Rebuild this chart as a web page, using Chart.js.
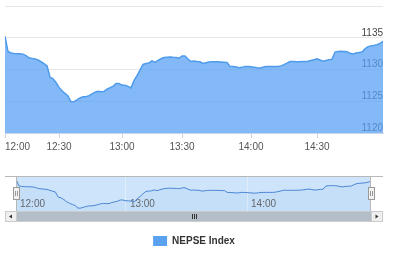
<!DOCTYPE html>
<html lang="en">
<head>
    <meta charset="UTF-8">
    <title>NEPSE Index</title>
    <script src="https://cdn.jsdelivr.net/npm/chart.js"></script>
    <style>
        body { margin: 0; background: #fff; }
        #wrap { position: relative; width: 400px; height: 258px; }
        #mainChart { position: absolute; left: 0; top: 0; }
        #navChart { position: absolute; left: 0; top: 170px; }
    </style>
</head>
<body>
    <div id="wrap">
        <canvas id="mainChart" width="400" height="258"></canvas>
        <canvas id="navChart" width="400" height="56"></canvas>
    </div>

    <script>
        // index values (one sample per step)
        const indexValues = [
            1135.22, 1132.83, 1132.60, 1132.52, 1132.49, 1132.49, 1132.42, 1132.18, 1131.85, 1131.75,
            1131.65, 1131.52, 1131.22, 1130.91, 1130.60, 1128.80, 1128.54, 1127.95, 1127.18, 1126.65,
            1126.23, 1125.83, 1124.92, 1124.94, 1125.22, 1125.52, 1125.72, 1125.72, 1125.89, 1126.15,
            1126.43, 1126.57, 1126.49, 1126.55, 1126.91, 1127.12, 1127.35, 1127.80, 1127.78, 1127.52,
            1127.52, 1127.35, 1127.11, 1128.25, 1129.03, 1129.91, 1130.80, 1130.95, 1131.03, 1131.37,
            1131.11, 1131.42, 1131.69, 1131.89, 1131.94, 1131.98, 1131.92, 1131.89, 1131.77, 1132.11,
            1132.12, 1131.65, 1131.26, 1131.34, 1131.26, 1131.22, 1130.95, 1131.06, 1131.18, 1131.22,
            1131.22, 1131.22, 1131.20, 1131.15, 1131.11, 1130.49, 1130.46, 1130.40, 1130.28, 1130.34,
            1130.49, 1130.46, 1130.43, 1130.34, 1130.26, 1130.23, 1130.34, 1130.46, 1130.49, 1130.49,
            1130.49, 1130.49, 1130.57, 1130.77, 1131.00, 1131.26, 1131.25, 1131.22, 1131.23, 1131.25,
            1131.26, 1131.29, 1131.43, 1131.55, 1131.68, 1131.49, 1131.31, 1131.43, 1131.55, 1131.62,
            1132.75, 1132.85, 1132.89, 1132.85, 1132.80, 1132.55, 1132.45, 1132.60, 1132.66, 1132.74,
            1133.26, 1133.60, 1133.71, 1133.80, 1133.89, 1134.12, 1134.45
        ];

        // time labels and the sample they fall on
        const timeLabels = ['12:00', '12:30', '13:00', '13:30', '14:00', '14:30'];
        const timeSample = [0, 18, 39, 59, 82, 104];

        const yTicks = [1120, 1125, 1130, 1135, 1140];
        const seriesName = 'NEPSE Index';

        const lastSample = indexValues.length - 1;
        const points = indexValues.map((v, i) => ({ x: i, y: v }));

        Chart.defaults.font.family = "'Liberation Sans', Arial, sans-serif";
        Chart.defaults.font.size = 10;
        Chart.defaults.animation = false;

        const lineColor = '#4f9bec';

        // main chart
        new Chart(document.getElementById('mainChart'), {
            type: 'line',
            data: {
                datasets: [{
                    label: seriesName,
                    data: points,
                    borderColor: lineColor,
                    borderWidth: 1.5,
                    backgroundColor: 'rgba(88, 162, 243, 0.75)',
                    fill: 'start',
                    pointRadius: 0,
                    tension: 0
                }]
            },
            options: {
                responsive: false,
                devicePixelRatio: 1,
                layout: { padding: { left: 5, right: 17, top: 2, bottom: 2 } },
                plugins: {
                    tooltip: { enabled: false },
                    legend: {
                        position: 'bottom',
                        labels: {
                            boxWidth: 14,
                            boxHeight: 10,
                            padding: 10,
                            color: '#333',
                            font: { weight: 'bold', size: 10 },
                            generateLabels: chart => Chart.defaults.plugins.legend.labels.generateLabels(chart)
                                .map(item => Object.assign(item, { fillStyle: '#5aa2f0', strokeStyle: '#5aa2f0', lineWidth: 0 }))
                        }
                    }
                },
                scales: {
                    x: {
                        type: 'linear',
                        min: 0,
                        max: lastSample,
                        afterBuildTicks: s => {
                            s.ticks = timeSample.concat([lastSample]).map(v => ({ value: v }));
                        },
                        afterFit: s => { s.height = 93; },
                        ticks: {
                            autoSkip: false,
                            maxRotation: 0,
                            align: 'inner',
                            padding: 3,
                            color: '#555',
                            callback: (v, i) => timeLabels[i] || ''
                        },
                        grid: {
                            drawOnChartArea: false,
                            tickLength: 5,
                            tickColor: c => c.index >= timeSample.length ? 'rgba(0,0,0,0)' : '#ccd6eb'
                        },
                        border: { color: '#ccd6eb' }
                    },
                    y: {
                        position: 'right',
                        min: yTicks[0],
                        max: yTicks[yTicks.length - 1],
                        afterBuildTicks: s => { s.ticks = yTicks.map(v => ({ value: v })); },
                        ticks: {
                            mirror: true,
                            padding: 0,
                            labelOffset: -5,
                            color: '#444',
                            callback: v => v === yTicks[yTicks.length - 1] ? '' : v
                        },
                        grid: { color: '#e6e6e6', drawTicks: false },
                        border: { display: false }
                    }
                }
            }
        });

        // navigator decorations: mask, outline, handles, scrollbar
        const navDecor = {
            id: 'navDecor',
            beforeDraw(chart) {
                const { ctx, chartArea: a } = chart;
                ctx.save();
                ctx.fillStyle = '#cde4fb';
                ctx.fillRect(a.left, a.top, a.right - a.left, a.bottom - a.top);
                ctx.restore();
            },
            afterDraw(chart) {
                const { ctx, chartArea: a } = chart;
                const outerL = 5, outerR = 383;
                ctx.save();
                ctx.lineWidth = 1;

                // scrollbar
                const sTop = a.bottom, sH = 10;
                ctx.fillStyle = '#b3bec8';
                ctx.fillRect(a.left, sTop, a.right - a.left, sH);
                ctx.fillStyle = '#efefef';
                ctx.fillRect(outerL, sTop, a.left - outerL, sH);
                ctx.fillRect(a.right, sTop, outerR - a.right, sH);
                ctx.strokeStyle = '#cccccc';
                ctx.strokeRect(outerL + 0.5, sTop + 0.5, outerR - outerL - 1, sH);
                ctx.strokeRect(Math.round(a.left) + 0.5, sTop + 0.5, a.right - a.left, sH);

                // arrows
                ctx.fillStyle = '#333';
                const my = sTop + sH / 2 + 0.5;
                const lx = (outerL + a.left) / 2, rx = (a.right + outerR) / 2;
                ctx.beginPath();
                ctx.moveTo(lx - 1.5, my); ctx.lineTo(lx + 1.5, my - 2); ctx.lineTo(lx + 1.5, my + 2); ctx.closePath(); ctx.fill();
                ctx.beginPath();
                ctx.moveTo(rx + 1.5, my); ctx.lineTo(rx - 1.5, my - 2); ctx.lineTo(rx - 1.5, my + 2); ctx.closePath(); ctx.fill();

                // grip
                const gx = Math.round((a.left + a.right) / 2);
                ctx.strokeStyle = '#333';
                for (let k = -2; k <= 2; k += 2) {
                    ctx.beginPath();
                    ctx.moveTo(gx + k + 0.5, my - 2.5);
                    ctx.lineTo(gx + k + 0.5, my + 2.5);
                    ctx.stroke();
                }

                // outline
                ctx.strokeStyle = '#b8b8b8';
                ctx.beginPath();
                ctx.moveTo(outerL, a.top + 0.5);
                ctx.lineTo(outerR, a.top + 0.5);
                ctx.moveTo(Math.round(a.left) + 0.5, a.top);
                ctx.lineTo(Math.round(a.left) + 0.5, a.bottom);
                ctx.moveTo(Math.round(a.right) - 0.5, a.top);
                ctx.lineTo(Math.round(a.right) - 0.5, a.bottom);
                ctx.stroke();

                // handles
                const hy = a.top + 11, hh = 13;
                [a.left, a.right].forEach(x => {
                    const hx = Math.round(x) - 3;
                    ctx.fillStyle = '#f2f2f2';
                    ctx.fillRect(hx, hy, 7, hh);
                    ctx.strokeStyle = '#999';
                    ctx.strokeRect(hx + 0.5, hy + 0.5, 6, hh - 1);
                    ctx.beginPath();
                    ctx.moveTo(hx + 2.5, hy + 4); ctx.lineTo(hx + 2.5, hy + hh - 4);
                    ctx.moveTo(hx + 4.5, hy + 4); ctx.lineTo(hx + 4.5, hy + hh - 4);
                    ctx.stroke();
                });
                ctx.restore();
            }
        };

        const navLabels = timeLabels.filter(t => t.endsWith(':00'));
        const navSample = timeSample.filter((s, i) => timeLabels[i].endsWith(':00'));

        new Chart(document.getElementById('navChart'), {
            type: 'line',
            data: {
                datasets: [{
                    data: points,
                    borderColor: '#4a86d4',
                    borderWidth: 1,
                    backgroundColor: 'rgba(74, 134, 212, 0.05)',
                    fill: 'start',
                    pointRadius: 0,
                    tension: 0
                }]
            },
            options: {
                responsive: false,
                devicePixelRatio: 1,
                layout: { padding: { left: 16, right: 29, top: 6, bottom: 15 } },
                plugins: { legend: { display: false }, tooltip: { enabled: false } },
                scales: {
                    x: {
                        type: 'linear',
                        min: 0,
                        max: lastSample,
                        afterBuildTicks: s => { s.ticks = navSample.map(v => ({ value: v })); },
                        afterFit: s => { s.height = 0; },
                        ticks: {
                            autoSkip: false,
                            maxRotation: 0,
                            align: 'start',
                            mirror: true,
                            labelOffset: 4,
                            padding: 1,
                            color: '#666',
                            callback: (v, i) => navLabels[i]
                        },
                        grid: { color: '#e2eefa', drawTicks: false },
                        border: { display: false }
                    },
                    y: { display: false, min: 1123.9, max: 1136.3 }
                }
            },
            plugins: [navDecor]
        });
    </script>
</body>
</html>
